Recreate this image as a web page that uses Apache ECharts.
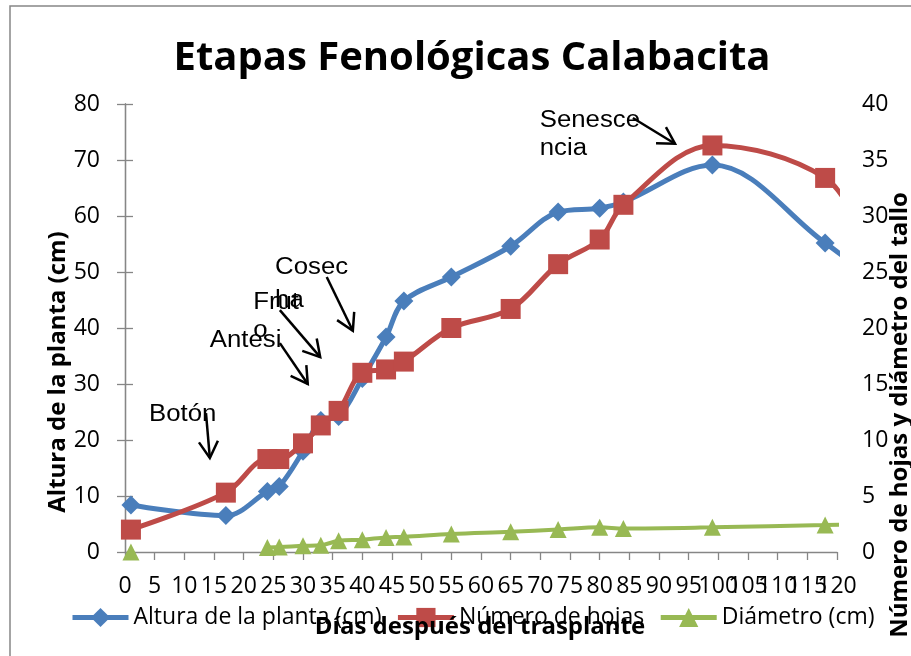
<!DOCTYPE html>
<html>
<head>
<meta charset="utf-8">
<script src="https://cdn.jsdelivr.net/npm/echarts@6/dist/echarts.min.js"></script>
<style>
  html, body { margin: 0; padding: 0; background: #fff; }
  #chart { width: 911px; height: 656px; }
</style>
</head>
<body>
<div id="chart"></div>
<script>
// Días después del trasplante (the last sample lies past the 120-day axis end and is clipped)
const dias = [1, 17, 24, 26, 30, 33, 36, 40, 44, 47, 55, 65, 73, 80, 84, 99, 118, 125];
// Altura de la planta (cm) - left axis
const alturaPlanta = [8.4, 6.5, 10.8, 11.7, 18.0, 23.5, 24.2, 31.0, 38.4, 44.8, 49.1, 54.6, 60.7, 61.4, 62.5, 69.1, 55.2, 49.5];
// Número de hojas - right axis
const numeroHojas = [2.0, 5.3, 8.3, 8.3, 9.7, 11.3, 12.6, 16.0, 16.3, 17.0, 20.0, 21.7, 25.7, 27.9, 31.0, 36.3, 33.4, 27.5];
// Diámetro del tallo (cm) - right axis (no reading on day 17)
const diametro = [0, null, 0.4, 0.45, 0.55, 0.6, 1.0, 1.1, 1.3, 1.35, 1.6, 1.8, 2.0, 2.2, 2.1, 2.2, 2.4, 2.5];

const seriesNames = ['Altura de la planta (cm)', 'Número de hojas', 'Diámetro (cm)'];
const titulo = 'Etapas Fenológicas Calabacita';
const ejeX = 'Días después del trasplante';
const ejeIzq = 'Altura de la planta (cm)';
const ejeDer = 'Número de hojas y diámetro del tallo';
const DIA_MAX = 120;

// Phenological stage notes, in (day, plant height) coordinates
const etapasTexto = [
  { text: 'Botón',   at: [4.05, 24.5] },
  { text: 'Antesi',  at: [14.3, 37.7] },
  { text: 'Frut',    at: [21.6, 44.6] },
  { text: 'o',       at: [21.6, 39.6] },
  { text: 'Cosec',   at: [25.3, 50.7] },
  { text: 'ha',      at: [25.3, 44.8] },
  { text: 'Senesce', at: [69.9, 77.1] },
  { text: 'ncia',    at: [69.9, 72.0] }
];
const etapasFlecha = [
  { from: [13.65, 24.8], to: [14.3, 16.8] },
  { from: [26.1, 37.3],  to: [30.8, 30.0] },
  { from: [26.1, 43.2],  to: [32.9, 34.8] },
  { from: [34.0, 49.1],  to: [38.4, 39.5] },
  { from: [85.6, 77.5],  to: [92.7, 72.9] }
];

const COLORS = ['#4A7EBB', '#BE4B48', '#98B954'];
const AXIS_GRAY = '#868686';
const UI_FONT = '"Open Sans", "DejaVu Sans", sans-serif';

const pair = (ys) => dias.map((d, i) => [d, ys[i]]);

const chart = echarts.init(document.getElementById('chart'), null, { renderer: 'canvas' });

const axisCommon = {
  axisLine: { show: true, lineStyle: { color: AXIS_GRAY, width: 1.3 } },
  axisTick: { show: true, inside: false, length: 8, lineStyle: { color: AXIS_GRAY, width: 1.3 } },
  splitLine: { show: false },
  axisLabel: { color: '#000', fontFamily: UI_FONT, fontSize: 23, margin: 25, showMinLabel: true }
};

chart.setOption({
  animation: false,
  backgroundColor: '#fff',
  title: {
    text: titulo,
    left: 467,
    top: 34,
    textAlign: 'center',
    textStyle: { fontFamily: UI_FONT, fontWeight: 'bold', fontSize: 40, color: '#000' }
  },
  grid: { left: 125, right: 74, top: 104, bottom: 104, containLabel: false },
  legend: {
    left: 70,
    top: 606,
    padding: 0,
    itemWidth: 56,
    itemHeight: 24,
    itemGap: 14,
    lineStyle: { width: 5 },
    textStyle: { fontFamily: UI_FONT, fontSize: 23, color: '#000' },
    data: seriesNames
  },
  xAxis: [
    Object.assign({}, axisCommon, {
      type: 'value', min: 0, max: DIA_MAX, interval: 5, position: 'bottom',
      axisLabel: Object.assign({}, axisCommon.axisLabel, {
        margin: 23, hideOverlap: false,
        formatter: (v) => (v === DIA_MAX ? '' : String(v))
      })
    }),
    // companion axis that only prints the end label, so it is not dropped next to 115
    {
      type: 'value', min: 0, max: DIA_MAX, interval: 5, position: 'bottom',
      axisLine: { show: false }, axisTick: { show: false }, splitLine: { show: false },
      axisLabel: {
        color: '#000', fontFamily: UI_FONT, fontSize: 23, margin: 23, showMaxLabel: true,
        formatter: (v) => (v === DIA_MAX ? String(v) : '')
      }
    }
  ],
  yAxis: [
    Object.assign({}, axisCommon, { type: 'value', min: 0, max: 80, interval: 10, position: 'left' }),
    Object.assign({}, axisCommon, { type: 'value', min: 0, max: 40, interval: 5, position: 'right' })
  ],
  series: [
    {
      name: seriesNames[0], type: 'line', xAxisIndex: 0, yAxisIndex: 0, data: pair(alturaPlanta),
      smooth: 0.35, clip: true, symbol: 'diamond', symbolSize: 19,
      lineStyle: { color: COLORS[0], width: 5 }, itemStyle: { color: COLORS[0] }, z: 2
    },
    {
      name: seriesNames[1], type: 'line', xAxisIndex: 0, yAxisIndex: 1, data: pair(numeroHojas),
      smooth: 0.35, clip: true, symbol: 'rect', symbolSize: 20,
      lineStyle: { color: COLORS[1], width: 5 }, itemStyle: { color: COLORS[1] }, z: 3
    },
    {
      name: seriesNames[2], type: 'line', xAxisIndex: 0, yAxisIndex: 1, data: pair(diametro),
      smooth: 0.35, clip: true, connectNulls: false, symbol: 'triangle', symbolSize: 17,
      lineStyle: { color: COLORS[2], width: 4 }, itemStyle: { color: COLORS[2] }, z: 4
    }
  ]
});

// Axis titles, frame and stage notes
const px = (p) => chart.convertToPixel({ xAxisIndex: 0, yAxisIndex: 0 }, p);
const graphics = [
  { type: 'rect', shape: { x: 10, y: 6, width: 1000, height: 1000 }, style: { fill: null, stroke: AXIS_GRAY, lineWidth: 1.5 }, z: 0, silent: true },
  { type: 'text', x: 480, y: 627, z: 10,
    style: { text: ejeX, font: 'bold 24px ' + UI_FONT, fill: '#000', textAlign: 'center', textVerticalAlign: 'middle' } },
  { type: 'text', x: 58, y: 372, rotation: Math.PI / 2, z: 10,
    style: { text: ejeIzq, font: 'bold 24px ' + UI_FONT, fill: '#000', textAlign: 'center', textVerticalAlign: 'middle' } },
  { type: 'text', x: 900, y: 415, rotation: Math.PI / 2, z: 10,
    style: { text: ejeDer, font: 'bold 24px ' + UI_FONT, fill: '#000', textAlign: 'center', textVerticalAlign: 'middle' } }
];

etapasTexto.forEach((t) => {
  const p = px(t.at);
  graphics.push({
    type: 'text', x: p[0], y: p[1], scaleX: 1.12, z: 10,
    style: { text: t.text, font: '23px "Liberation Sans", Arial, sans-serif', fill: '#000', textAlign: 'left', textVerticalAlign: 'middle' }
  });
});

etapasFlecha.forEach((a) => {
  const s = px(a.from), e = px(a.to);
  const ang = Math.atan2(e[1] - s[1], e[0] - s[0]);
  const L = 19, spread = Math.PI / 6;
  const w1 = [e[0] - L * Math.cos(ang - spread), e[1] - L * Math.sin(ang - spread)];
  const w2 = [e[0] - L * Math.cos(ang + spread), e[1] - L * Math.sin(ang + spread)];
  graphics.push({ type: 'polyline', z: 10, shape: { points: [s, e] }, style: { stroke: '#000', lineWidth: 2.5, fill: null } });
  graphics.push({ type: 'polyline', z: 10, shape: { points: [w1, e, w2] }, style: { stroke: '#000', lineWidth: 2.5, fill: null } });
});

chart.setOption({ graphic: graphics });
</script>
</body>
</html>
